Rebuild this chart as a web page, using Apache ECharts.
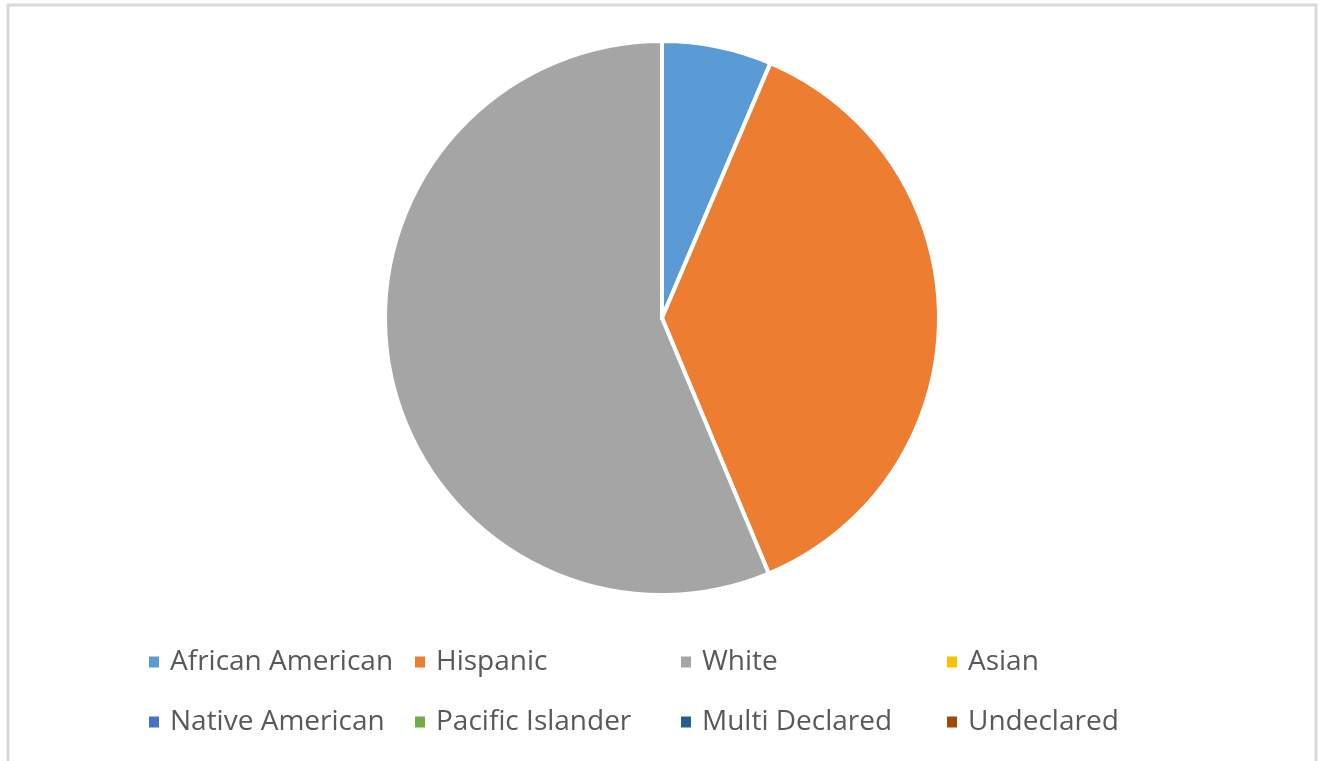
<!DOCTYPE html>
<html><head><meta charset="utf-8">
<script src="https://cdn.jsdelivr.net/npm/echarts@6/dist/echarts.min.js"></script>
<style>html,body{margin:0;padding:0;background:#fff}#c{width:1321px;height:761px}</style>
</head><body><div id="c"></div>
<script>
const categories = ['African American','Hispanic','White','Asian','Native American','Pacific Islander','Multi Declared','Undeclared'];
const values = [6.4, 37.3, 56.3, 0, 0, 0, 0, 0];
const colors = ['#5B9BD5','#ED7D31','#A5A5A5','#FFC000','#4472C4','#70AD47','#255E91','#9E480E'];

const colLeft = [147, 413, 679, 945];
const legends = colLeft.map((x, i) => ({
  orient: 'vertical', left: x, top: 647, itemGap: 30, padding: 0,
  itemWidth: 12, itemHeight: 13, icon: 'rect',
  selectedMode: false,
  data: [categories[i], categories[i + 4]],
  textStyle: {fontFamily: 'Open Sans', fontSize: 28, lineHeight: 30, color: '#595959', padding: [0,0,0,5]}
}));

const chart = echarts.init(document.getElementById('c'));
chart.setOption({
  animation: false,
  color: colors,
  legend: legends,
  graphic: [{type:'polyline', shape:{points:[[8,761],[8,5],[1316,5],[1316,761]]}, style:{stroke:'#D9D9D9', lineWidth:3, fill:null}, silent:true}],
  series: [{
    type: 'pie', center: [662, 318], radius: 277, startAngle: 90, clockwise: true,
    label: {show:false}, labelLine:{show:false},
    itemStyle: {borderColor:'#fff', borderWidth:4},
    emphasis: {disabled:true},
    data: categories.map((n, i) => ({name: n, value: values[i]}))
  }]
});
</script></body></html>
